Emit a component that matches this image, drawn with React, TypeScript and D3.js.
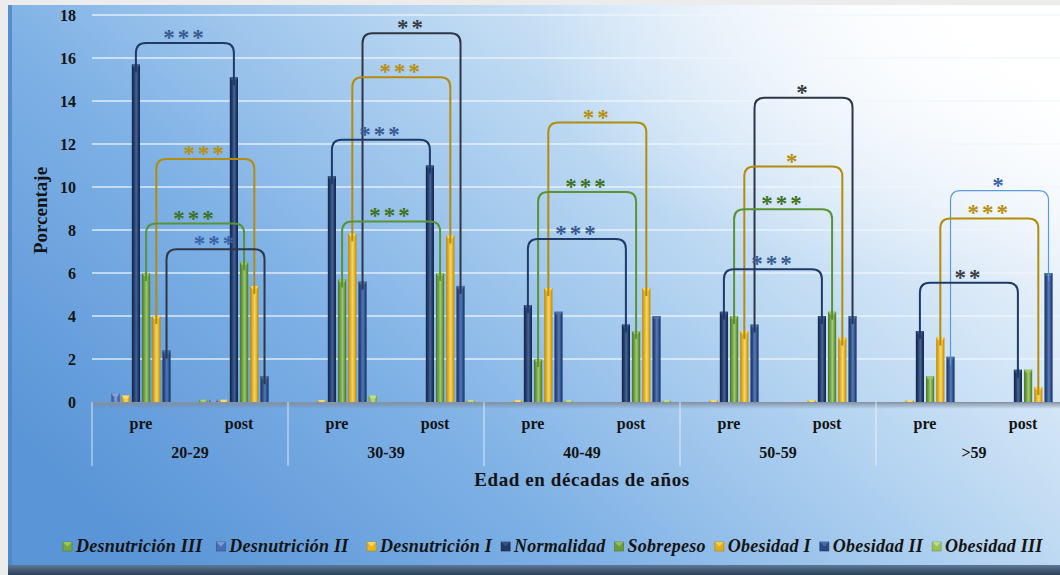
import React from "react";
import * as d3 from "d3";

// Categories: age decades, each split into pre / post measurements
const decades = ["20-29", "30-39", "40-49", "50-59", ">59"];
const phases = ["pre", "post"];
const seriesNames = [
  "Desnutrición III",
  "Desnutrición II",
  "Desnutrición I",
  "Normalidad",
  "Sobrepeso",
  "Obesidad I",
  "Obesidad II",
  "Obesidad III",
];

// Percent per category, ordered 20-29 pre, 20-29 post, 30-39 pre, ...
const desnutricionIII = [0, 0.1, 0, 0, 0, 0, 0, 0, 0, 0];
const desnutricionII = [0.4, 0.1, 0, 0, 0, 0, 0, 0, 0, 0];
const desnutricionI = [0.3, 0.1, 0.08, 0, 0.08, 0, 0.08, 0.08, 0.08, 0];
const normalidad = [15.7, 15.1, 10.5, 11.0, 4.5, 3.6, 4.2, 4.0, 3.3, 1.5];
const sobrepeso = [6.0, 6.5, 5.7, 6.0, 2.0, 3.3, 4.0, 4.2, 1.2, 1.5];
const obesidadI = [4.0, 5.4, 7.85, 7.75, 5.3, 5.3, 3.3, 3.0, 3.0, 0.7];
const obesidadII = [2.4, 1.2, 5.6, 5.4, 4.2, 4.0, 3.6, 4.0, 2.1, 6.0];
const obesidadIII = [0, 0, 0.3, 0.08, 0.08, 0.08, 0, 0, 0, 0];

const seriesValues = [
  desnutricionIII,
  desnutricionII,
  desnutricionI,
  normalidad,
  sobrepeso,
  obesidadI,
  obesidadII,
  obesidadIII,
];

const yTicks = [0, 2, 4, 6, 8, 10, 12, 14, 16, 18];

// Significance brackets: decade index, series, bracket height (%), stars
const bracketDecade = [0, 0, 0, 0, 1, 1, 1, 1, 2, 2, 2, 3, 3, 3, 3, 4, 4, 4];
const bracketSeries = [
  "Normalidad", "Obesidad I", "Sobrepeso", "Obesidad II",
  "Obesidad II", "Obesidad I", "Normalidad", "Sobrepeso",
  "Obesidad I", "Sobrepeso", "Normalidad",
  "Obesidad II", "Obesidad I", "Sobrepeso", "Normalidad",
  "Obesidad II", "Obesidad I", "Normalidad",
];
const bracketLevel = [
  16.7, 11.3, 8.3, 7.1,
  17.15, 15.1, 12.2, 8.4,
  13.0, 9.77, 7.58,
  14.15, 10.95, 8.96, 6.17,
  9.83, 8.54, 5.55,
];
const bracketStars = [
  "***", "***", "***", "***",
  "**", "***", "***", "***",
  "**", "***", "***",
  "*", "*", "***", "***",
  "*", "***", "**",
];

// ---- styling ----
const W = 1060;
const H = 575;
const plotLeft = 92;
const plotRight = 1072;
const plotTop = 15;
const plotBottom = 402;
const SERIF = "'Liberation Serif', 'Times New Roman', serif";

const barColors: Record<string, [string, string, string]> = {
  // [edge, body, highlight]
  "Desnutrición III": ["#4f7f25", "#76a83e", "#a6d06a"],
  "Desnutrición II": ["#2f4f90", "#4a6db5", "#8aa6dc"],
  "Desnutrición I": ["#b88a08", "#e8b61c", "#fbe07a"],
  Normalidad: ["#14264a", "#1f3864", "#3d5a8e"],
  Sobrepeso: ["#4a7628", "#6b9b3c", "#9cc865"],
  "Obesidad I": ["#b4860a", "#e3ae17", "#fad865"],
  "Obesidad II": ["#1a3366", "#2a4b86", "#5073b0"],
  "Obesidad III": ["#6f9636", "#9ac05a", "#c4e08e"],
};

const bracketLine: Record<string, string> = {
  Normalidad: "#1f3a68",
  Sobrepeso: "#5a9236",
  "Obesidad I": "#b48c0c",
  "Obesidad II": "#2f3647",
};
const bracketText: Record<string, string> = {
  Normalidad: "#3a5a92",
  Sobrepeso: "#3f7324",
  "Obesidad I": "#b8900e",
  "Obesidad II": "#3a3d48",
};
// per-bracket overrides (decade|series)
const lineOverride: Record<string, { color: string; width: number }> = {
  "4|Obesidad II": { color: "#5c9ad8", width: 1.2 },
};
const textOverride: Record<string, string> = {
  "0|Obesidad II": "#3a62a6",
  "4|Obesidad II": "#3a66b0",
  "4|Normalidad": "#3c3f4a",
};

const slug = (s: string) => s.replace(/[^A-Za-z]/g, "");

export default function App() {
  const categories = decades.flatMap((d) => phases.map((p) => `${d}|${p}`));

  const x = d3.scaleBand<string>().domain(categories).range([plotLeft, plotRight]).padding(0);
  const xs = d3
    .scaleBand<string>()
    .domain(seriesNames)
    .range([0, x.bandwidth()])
    .paddingInner(0.2)
    .paddingOuter(0.9);
  const y = d3.scaleLinear().domain([0, 18]).range([plotBottom, plotTop]);

  const decadeX = d3.scaleBand<string>().domain(decades).range([plotLeft, plotRight]).padding(0);

  const barCx = (cat: string, s: string) => (x(cat) as number) + (xs(s) as number) + xs.bandwidth() / 2;

  // legend layout measured from the font
  const canvas = typeof document !== "undefined" ? document.createElement("canvas") : null;
  const ctx = canvas ? canvas.getContext("2d") : null;
  const legendSize = 18;
  const legendSpacing = 0.25;
  const legendFont = `italic bold ${legendSize}px ${SERIF}`;
  if (ctx) ctx.font = legendFont;
  const legendLabels = seriesNames.map((s) =>
    s === "Desnutrición III" ? "Desnutrición  III" : s === "Desnutrición II" ? "Desnutrición   II" : s
  );
  const legendItems: { name: string; label: string; x: number }[] = [];
  {
    let cx = 63;
    legendLabels.forEach((lab, i) => {
      legendItems.push({ name: seriesNames[i], label: lab, x: cx });
      const w = (ctx ? ctx.measureText(lab).width : lab.length * 9) + lab.length * legendSpacing;
      cx += 13 + w + 9;
    });
  }

  const r = 10;
  const bracketPath = (x1: number, y1: number, x2: number, y2: number, yt: number) =>
    `M${x1},${y1} L${x1},${yt + r} Q${x1},${yt} ${x1 + r},${yt} L${x2 - r},${yt} Q${x2},${yt} ${x2},${yt + r} L${x2},${y2}`;

  return (
    <svg
      width={W}
      height={H}
      style={{ position: "absolute", left: 0, top: 0, display: "block" }}
      xmlns="http://www.w3.org/2000/svg"
    >
      <defs>
        <linearGradient id="bg" x1="0" y1="0.75" x2="1" y2="0.15">
          <stop offset="0" stopColor="#5a95d7" />
          <stop offset="0.3" stopColor="#7db0e5" />
          <stop offset="0.6" stopColor="#b6d5f1" />
          <stop offset="0.85" stopColor="#e6f0fa" />
          <stop offset="1" stopColor="#ffffff" />
        </linearGradient>
        <radialGradient id="glow" cx="0.95" cy="0.05" r="0.45">
          <stop offset="0" stopColor="#ffffff" stopOpacity="0.95" />
          <stop offset="1" stopColor="#ffffff" stopOpacity="0" />
        </radialGradient>
        <linearGradient id="bottomBand" x1="0" y1="0" x2="0" y2="1">
          <stop offset="0" stopColor="#5d7896" />
          <stop offset="1" stopColor="#2c4159" />
        </linearGradient>
        <linearGradient id="floor" x1="0" y1="0" x2="0" y2="1">
          <stop offset="0" stopColor="#7d8a9c" stopOpacity="0.9" />
          <stop offset="1" stopColor="#7d8a9c" stopOpacity="0" />
        </linearGradient>
        {seriesNames.map((s) => {
          const [e, b, h] = barColors[s];
          return (
            <linearGradient key={s} id={`bar-${slug(s)}`} x1="0" y1="0" x2="1" y2="0">
              <stop offset="0" stopColor={e} />
              <stop offset="0.25" stopColor={b} />
              <stop offset="0.55" stopColor={h} stopOpacity="0.9" />
              <stop offset="0.8" stopColor={b} />
              <stop offset="1" stopColor={e} />
            </linearGradient>
          );
        })}
      </defs>

      {/* page frame */}
      <rect x={0} y={0} width={W} height={H} fill="#ececec" />
      <rect x={8} y={5} width={W - 8} height={H - 5} fill="url(#bg)" />
      <rect x={8} y={5} width={W - 8} height={H - 5} fill="url(#glow)" />
      <rect x={8} y={5} width={4} height={H - 5} fill="#4c84c6" opacity={0.8} />
      <rect x={8} y={565} width={W - 8} height={10} fill="url(#bottomBand)" />

      {/* grid */}
      {yTicks.slice(1).map((t) => (
        <line
          key={t}
          x1={plotLeft}
          x2={W}
          y1={y(t)}
          y2={y(t)}
          stroke="#eef4fb"
          strokeOpacity={0.85}
          strokeWidth={1.4}
        />
      ))}

      {/* y tick labels */}
      {yTicks.map((t) => (
        <text
          key={t}
          x={76}
          y={y(t)}
          dy="0.35em"
          textAnchor="end"
          fontFamily={SERIF}
          fontWeight="bold"
          fontSize={16}
          fill="#141414"
        >
          {t}
        </text>
      ))}
      <text
        transform={`translate(47,${(plotTop + plotBottom) / 2 + 2}) rotate(-90)`}
        textAnchor="middle"
        fontFamily={SERIF}
        fontWeight="bold"
        fontSize={19}
        fill="#141414"
      >
        Porcentaje
      </text>

      {/* floor */}
      <rect x={plotLeft} y={plotBottom} width={W - plotLeft} height={7} fill="url(#floor)" />
      <line x1={plotLeft} x2={W} y1={plotBottom + 0.5} y2={plotBottom + 0.5} stroke="#8792a2" strokeWidth={1} />
      {d3.range(decades.length + 1).map((i) => {
        const xx = plotLeft + i * decadeX.bandwidth();
        return (
          <line
            key={i}
            x1={xx}
            x2={xx}
            y1={plotBottom}
            y2={466}
            stroke="#f4f8fc"
            strokeOpacity={0.8}
            strokeWidth={1}
          />
        );
      })}

      {/* bars */}
      {seriesNames.map((s, si) =>
        seriesValues[si].map((v, ci) => {
          if (v <= 0) return null;
          const cat = categories[ci];
          const bx = (x(cat) as number) + (xs(s) as number);
          const by = y(v);
          const bw = xs.bandwidth();
          const bh = plotBottom - by;
          const [, , h] = barColors[s];
          return (
            <g key={`${s}-${ci}`}>
              <rect x={bx} y={by} width={bw} height={bh} fill={`url(#bar-${slug(s)})`} />
              <polygon
                points={`${bx},${by} ${bx + bw},${by} ${bx + bw - 2},${by + Math.min(3, bh)} ${bx + 2},${by + Math.min(3, bh)}`}
                fill={h}
                opacity={0.9}
              />
            </g>
          );
        })
      )}

      {/* significance brackets */}
      {bracketSeries.map((s, i) => {
        const d = bracketDecade[i];
        const si = seriesNames.indexOf(s);
        const preCat = categories[d * 2];
        const postCat = categories[d * 2 + 1];
        const x1 = barCx(preCat, s);
        const x2 = barCx(postCat, s);
        const yt = y(bracketLevel[i]);
        const y1 = y(seriesValues[si][d * 2]) + 8;
        const y2 = y(seriesValues[si][d * 2 + 1]) + 8;
        const key = `${d}|${s}`;
        const lo = lineOverride[key];
        return (
          <path
            key={`b-${i}`}
            d={bracketPath(x1, y1, x2, y2, yt)}
            fill="none"
            stroke={lo ? lo.color : bracketLine[s]}
            strokeWidth={lo ? lo.width : 2}
          />
        );
      })}
      {bracketSeries.map((s, i) => {
        const d = bracketDecade[i];
        const x1 = barCx(categories[d * 2], s);
        const x2 = barCx(categories[d * 2 + 1], s);
        const yt = y(bracketLevel[i]);
        const key = `${d}|${s}`;
        return (
          <text
            key={`t-${i}`}
            x={(x1 + x2) / 2}
            y={yt + 2}
            textAnchor="middle"
            fontFamily={SERIF}
            fontWeight="bold"
            fontSize={23}
            letterSpacing={3}
            fill={textOverride[key] || bracketText[s]}
          >
            {bracketStars[i]}
          </text>
        );
      })}

      {/* x axis labels */}
      {categories.map((c) => (
        <text
          key={c}
          x={(x(c) as number) + x.bandwidth() / 2}
          y={429}
          textAnchor="middle"
          fontFamily={SERIF}
          fontWeight="bold"
          fontSize={16}
          fill="#141414"
        >
          {c.split("|")[1]}
        </text>
      ))}
      {decades.map((d) => (
        <text
          key={d}
          x={(decadeX(d) as number) + decadeX.bandwidth() / 2}
          y={458}
          textAnchor="middle"
          fontFamily={SERIF}
          fontWeight="bold"
          fontSize={16}
          fill="#141414"
        >
          {d}
        </text>
      ))}
      <text
        x={582}
        y={486}
        textAnchor="middle"
        fontFamily={SERIF}
        fontWeight="bold"
        fontSize={19}
        letterSpacing={0.6}
        fill="#141414"
      >
        Edad en décadas de años
      </text>

      {/* legend */}
      {legendItems.map((it) => {
        const [e, b, h] = barColors[it.name];
        return (
          <g key={it.name} transform={`translate(${it.x},552)`}>
            <rect x={0} y={-10} width={9} height={9} fill={b} stroke={e} strokeWidth={0.6} />
            <polygon points="0,-10 9,-10 4.5,-5.5" fill={h} opacity={0.8} />
            <text
              x={13}
              y={0}
              fontFamily={SERIF}
              fontStyle="italic"
              fontWeight="bold"
              fontSize={legendSize}
              letterSpacing={legendSpacing}
              fill="#141414"
            >
              {it.label}
            </text>
          </g>
        );
      })}
    </svg>
  );
}
